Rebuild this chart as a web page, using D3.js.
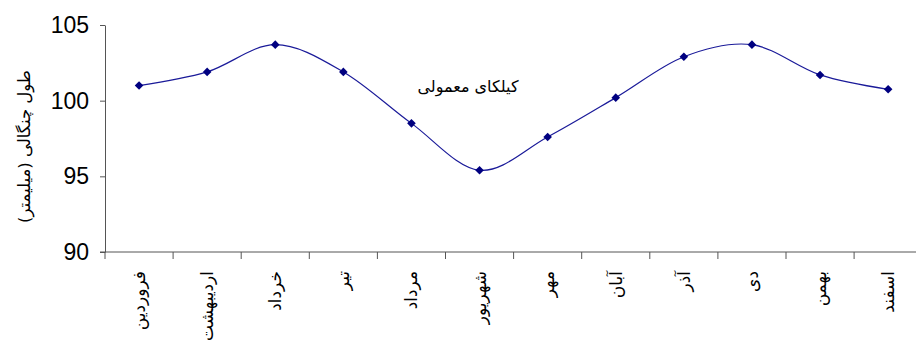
<!DOCTYPE html>
<html>
<head>
<meta charset="utf-8">
<script src="https://cdn.jsdelivr.net/npm/d3@7"></script>
<style>
  html, body { margin: 0; padding: 0; background: #fff; }
  svg { display: block; }
</style>
</head>
<body>
<svg id="chart" width="916" height="355"></svg>
<script>
// Months of the Persian calendar
const months = ["فروردین", "اردیبهشت", "خرداد", "تیر", "مرداد", "شهریور",
                "مهر", "آبان", "آذر", "دی", "بهمن", "اسفند"];
// Mean fork length (mm) per month
const forkLength = [101.0, 101.9, 103.7, 101.9, 98.5, 95.4,
                    97.6, 100.2, 102.9, 103.7, 101.7, 100.75];
const yTicks = [90, 95, 100, 105];
const seriesName = "کیلکای معمولی";
const yTitle = "طول چنگالی (میلیمتر)";

const svg = d3.select("#chart");
const plotLeft = 105, plotTop = 25, plotBottom = 252, bandW = 68.1;

const x = d3.scaleBand()
  .domain(months)
  .range([plotLeft, plotLeft + bandW * months.length])
  .paddingInner(0).paddingOuter(0);
const y = d3.scaleLinear().domain([90, 105]).range([plotBottom, plotTop]);

const axisColor = "#555";

// y axis
const yAxis = svg.append("g")
  .attr("transform", `translate(${plotLeft},0)`)
  .call(d3.axisLeft(y).tickValues(yTicks).tickSize(5).tickSizeOuter(0).tickFormat(d3.format("d")));
yAxis.select(".domain").attr("stroke", axisColor);
yAxis.selectAll(".tick line").attr("stroke", axisColor);
yAxis.selectAll(".tick text")
  .attr("x", -16)
  .attr("font-family", "Liberation Sans, Arial, sans-serif")
  .attr("font-size", 23)
  .attr("fill", "#000");

// x axis
const xAxis = svg.append("g")
  .attr("transform", `translate(0,${plotBottom})`);
xAxis.append("line")
  .attr("x1", plotLeft - 5).attr("x2", 916)
  .attr("y1", 0).attr("y2", 0)
  .attr("stroke", axisColor);
const tickPos = months.map(m => x(m));
xAxis.selectAll("line.tick")
  .data(tickPos)
  .enter().append("line")
  .attr("class", "tick")
  .attr("x1", d => d).attr("x2", d => d)
  .attr("y1", 0).attr("y2", 7)
  .attr("stroke", axisColor);

// month labels, vertical
svg.append("g").selectAll("text")
  .data(months)
  .enter().append("text")
  .attr("transform", d => `translate(${x(d) + x.bandwidth() / 2},271) rotate(-90)`)
  .attr("text-anchor", "end")
  .attr("dy", "0.35em")
  .attr("font-family", "DejaVu Sans, Noto Sans, sans-serif")
  .attr("font-size", 17)
  .attr("fill", "#000")
  .text(d => d);

// y axis title
svg.append("text")
  .attr("transform", `translate(24,${(plotTop + plotBottom) / 2 + 8}) rotate(-90)`)
  .attr("text-anchor", "middle")
  .attr("dy", "0.35em")
  .attr("font-family", "DejaVu Sans, Noto Sans, sans-serif")
  .attr("font-size", 16.5)
  .attr("fill", "#000")
  .text(yTitle);

// smoothed series line
const cx = (d, i) => x(months[i]) + x.bandwidth() / 2;
const line = d3.line()
  .x(cx)
  .y(d => y(d))
  .curve(d3.curveCatmullRom.alpha(0));
svg.append("path")
  .datum(forkLength)
  .attr("d", line)
  .attr("fill", "none")
  .attr("stroke", "#1a1a99")
  .attr("stroke-width", 1.2);

// diamond markers
svg.append("g").selectAll("path")
  .data(forkLength)
  .enter().append("path")
  .attr("transform", (d, i) => `translate(${cx(d, i)},${y(d)})`)
  .attr("d", "M0,-4.3L4.3,0L0,4.3L-4.3,0Z")
  .attr("fill", "#000080");

// series label
svg.append("text")
  .attr("x", 468)
  .attr("y", 92)
  .attr("text-anchor", "middle")
  .attr("font-family", "DejaVu Sans, Noto Sans, sans-serif")
  .attr("font-size", 16)
  .attr("fill", "#000")
  .text(seriesName);
</script>
</body>
</html>
